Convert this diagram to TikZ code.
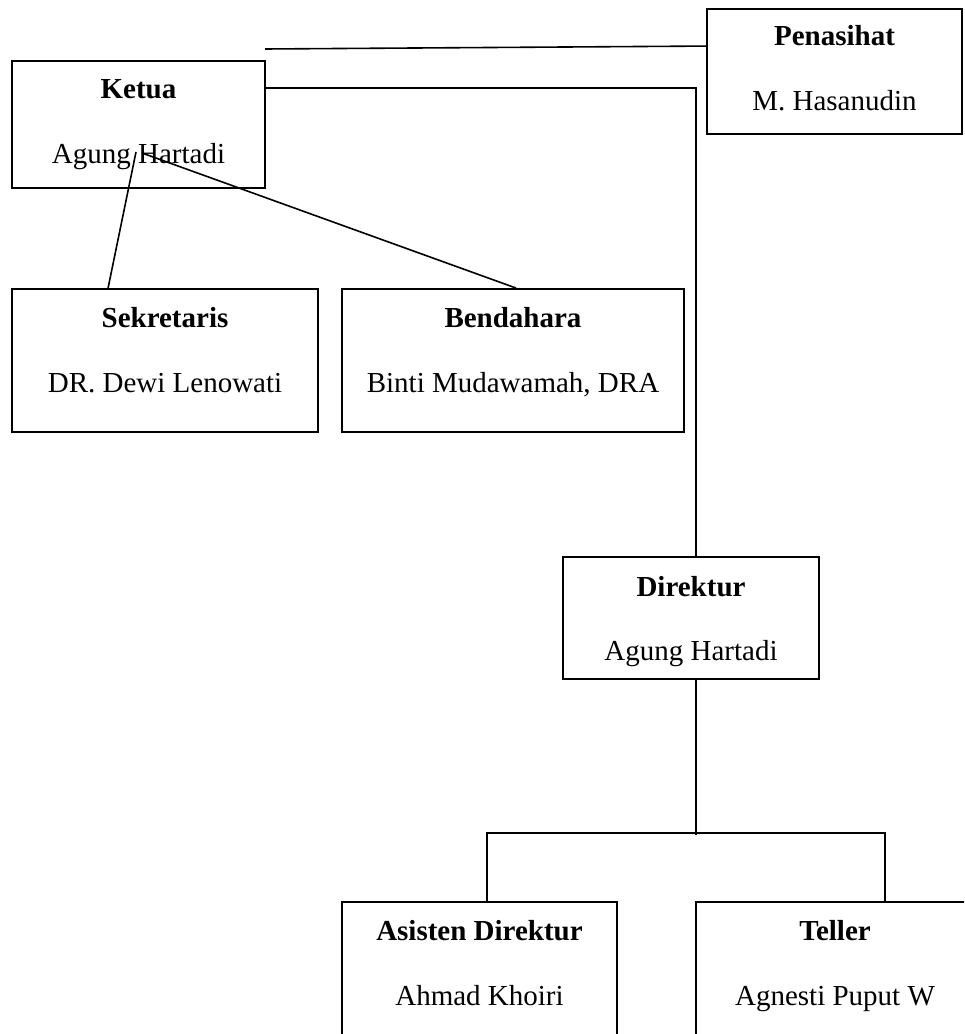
\documentclass[tikz,border=0pt]{standalone}
\usepackage{fontspec}
\setmainfont{Liberation Serif}
\usetikzlibrary{fit,calc}
\begin{document}
\begin{tikzpicture}[x=0.75pt,y=-0.75pt,
  box/.style={draw, line width=1.4pt, inner sep=0pt},
  ttl/.style={anchor=base, inner sep=0pt, font=\fontsize{21.75}{26}\selectfont\bfseries},
  nm/.style={anchor=base, inner sep=0pt, font=\fontsize{21.75}{26}\selectfont},
  conn/.style={line width=1.2pt}]
\useasboundingbox (0,0) rectangle (964,1034);
\clip (0,0) rectangle (964,1034);
\fill[white] (0,0) rectangle (964,1034);

% boxes
\node[box, fit={(707,9) (962,134)}] (pen) {};
\node[box, fit={(12,61) (265,188)}] (ket) {};
\node[box, fit={(12,289) (318,432)}] (sek) {};
\node[box, fit={(342,289) (684,432)}] (ben) {};
\node[box, fit={(563,557) (819,679)}] (dir) {};
\node[box, fit={(342,902) (617,1050)}] (ast) {};
\node[box, fit={(696,902) (974,1050)}] (tel) {};

% texts
\node[ttl] (penT) at (834.5,46) {Penasihat};
\node[nm]  (penN) at (834.5,111) {M. Hasanudin};
\node[ttl] (ketT) at (138.5,99) {Ketua};
\node[nm]  (ketN) at (138.5,164) {Agung Hartadi};
\node[ttl] (sekT) at (165,327) {Sekretaris};
\node[nm]  (sekN) at (165,392) {DR. Dewi Lenowati};
\node[ttl] (benT) at (513,327) {Bendahara};
\node[nm]  (benN) at (513,392) {Binti Mudawamah, DRA};
\node[ttl] (dirT) at (691,596) {Direktur};
\node[nm]  (dirN) at (691,660) {Agung Hartadi};
\node[ttl] (astT) at (479.5,940) {Asisten Direktur};
\node[nm]  (astN) at (479.5,1005) {Ahmad Khoiri};
\node[ttl] (telT) at (835,940) {Teller};
\node[nm]  (telN) at (835,1005) {Agnesti Puput W};

% connectors
\coordinate (penL) at (265,49);
\draw[conn] (penL) -- ($(pen.north west)+(0,38)$);
\draw[conn] ($(ket.north east)+(0,28)$) -| ($(dir.north)+(5,0)$);
\coordinate (k1) at (136,152);
\coordinate (k2) at (142,153);
\draw[conn] (k1) -- ($(sek.north west)+(97,0)$);
\draw[conn] (k2) -- ($(ben.north west)+(175,0)$);
\draw[conn] ($(dir.south)+(5,0)$) -- ++(0,155);
\draw[conn] ($(ast.north west)+(146,0)$) -- ++(0,-68) -| ($(tel.north west)+(190,0)$);
\end{tikzpicture}
\end{document}
